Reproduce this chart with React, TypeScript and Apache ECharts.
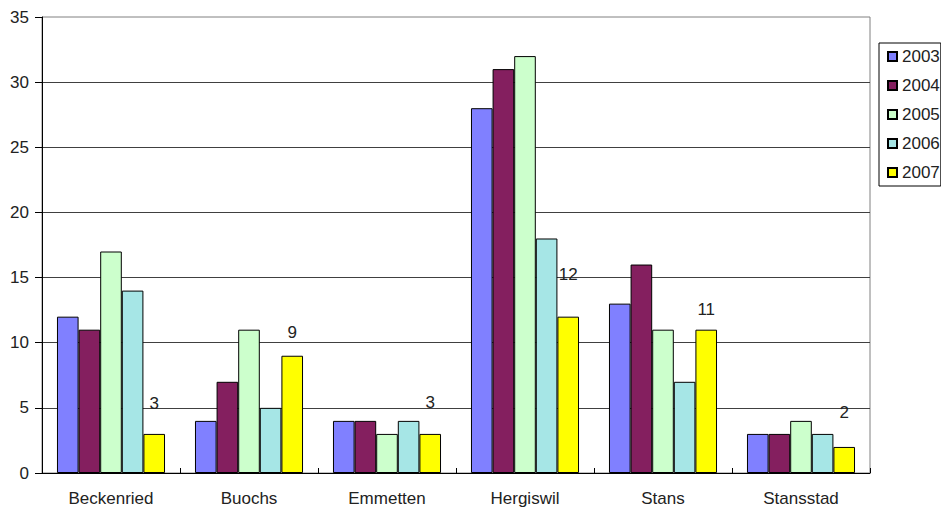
import React, { useEffect, useRef } from "react";
import * as echarts from "echarts";

const categories = ["Beckenried", "Buochs", "Emmetten", "Hergiswil", "Stans", "Stansstad"];
const years = ["2003", "2004", "2005", "2006", "2007"];
const v2003 = [12, 4, 4, 28, 13, 3];
const v2004 = [11, 7, 4, 31, 16, 3];
const v2005 = [17, 11, 3, 32, 11, 4];
const v2006 = [14, 5, 4, 18, 7, 3];
const v2007 = [3, 9, 3, 12, 11, 2];
const yTicks = [0, 5, 10, 15, 20, 25, 30, 35];

const colors = ["#8080FF", "#841F5F", "#CCFFCC", "#A6E6E6", "#FFFF00"];
const labelLift = [22, 15, 23, 34, 12, 26];

const FONT = "'Liberation Sans', Arial, sans-serif";

export default function App() {
  const ref = useRef<HTMLDivElement>(null);
  useEffect(() => {
    document.body.style.margin = "0";
    const chart = echarts.init(ref.current!, null, { renderer: "svg" });
    const seriesValues = [v2003, v2004, v2005, v2006, v2007];
    chart.setOption({
      animation: false,
      backgroundColor: "#ffffff",
      textStyle: { fontFamily: FONT },
      grid: {
        left: 42,
        right: 71,
        top: 17,
        bottom: 41,
        show: true,
        borderColor: "#808080",
        borderWidth: 1,
        backgroundColor: "transparent",
      },
      legend: {
        orient: "vertical",
        left: 879,
        top: 43,
        padding: [5, 1, 5, 8],
        itemGap: 12,
        itemWidth: 9,
        itemHeight: 9,
        itemTextGap: 6,
        icon: "rect",
        borderColor: "#000",
        borderWidth: 1,
        textStyle: { fontSize: 17, color: "#222", fontFamily: FONT },
        data: years,
      },
      xAxis: {
        type: "category",
        data: categories,
        axisLine: { show: true, lineStyle: { color: "#000", width: 1 } },
        axisTick: { show: true, inside: true, length: 5, alignWithLabel: false, lineStyle: { color: "#000" } },
        axisLabel: { fontSize: 17, color: "#222", margin: 17, fontFamily: FONT },
        splitLine: { show: false },
      },
      yAxis: {
        type: "value",
        min: yTicks[0],
        max: yTicks[yTicks.length - 1],
        interval: 5,
        axisLine: { show: true, lineStyle: { color: "#000", width: 1 } },
        axisTick: { show: true, inside: false, length: 7, lineStyle: { color: "#000" } },
        axisLabel: { fontSize: 17, color: "#222", margin: 13, fontFamily: FONT },
        splitLine: { show: true, showMaxLine: false, lineStyle: { color: "#404040", width: 1 } },
      },
      series: years.map((y, i) => ({
        name: y,
        type: "bar",
        barGap: "0%",
        barCategoryGap: "21.7%",
        itemStyle: { color: colors[i], borderColor: "#000", borderWidth: 1 },
        data:
          i === 4
            ? seriesValues[i].map((v, k) => ({
                value: v,
                label: {
                  show: true,
                  position: "top",
                  distance: labelLift[k],
                  fontSize: 17,
                  color: "#222",
                  fontFamily: FONT,
                },
              }))
            : seriesValues[i],
      })),
    });
    return () => chart.dispose();
  }, []);
  return <div ref={ref} style={{ position: "absolute", left: 0, top: 0, width: 941, height: 514 }} />;
}
